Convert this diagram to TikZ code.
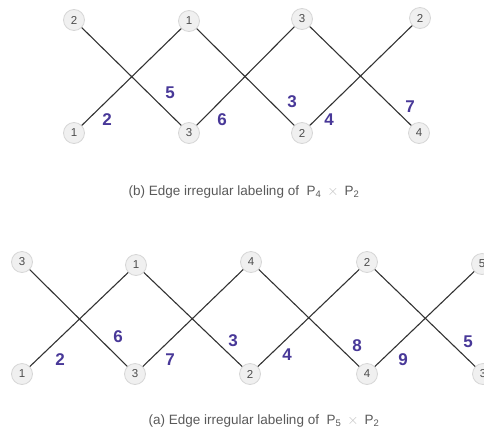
\documentclass[tikz,border=0pt]{standalone}
\usepackage{fontspec}
\setmainfont{Liberation Sans}
\definecolor{labblue}{RGB}{72,56,152}
\begin{document}
\begin{tikzpicture}[x=1pt,y=-1pt,
  vtx/.style={circle,draw=black!16,fill=black!6,line width=0.8pt,minimum size=21pt,inner sep=0pt,text=black!70,font=\fontsize{11.5}{11.5}\selectfont},
  elab/.style={text=labblue,font=\fontsize{17}{17}\selectfont\bfseries,inner sep=0pt},
  edge/.style={draw=black!80,line width=1.1pt},
  captext/.style={text=black!65,font=\fontsize{13.5}{13.5}\selectfont,inner sep=0pt}]
\useasboundingbox (0,0) rectangle (484,434);
% (b)
\node[vtx] (bt1) at (74,20) {2};
\node[vtx] (bt2) at (189,21) {1};
\node[vtx] (bt3) at (302,19) {3};
\node[vtx] (bt4) at (420,18) {2};
\node[vtx] (bb1) at (74,133) {1};
\node[vtx] (bb2) at (189,133) {3};
\node[vtx] (bb3) at (302,133) {2};
\node[vtx] (bb4) at (419,133) {4};
\draw[edge] (bt1) -- (bb2);
\draw[edge] (bb1) -- (bt2);
\draw[edge] (bt2) -- (bb3);
\draw[edge] (bb2) -- (bt3);
\draw[edge] (bt3) -- (bb4);
\draw[edge] (bb3) -- (bt4);
\node[elab] (bl1) at (107,120) {2};
\node[elab] (bl2) at (170,93) {5};
\node[elab] (bl3) at (222,120) {6};
\node[elab] (bl4) at (292,102) {3};
\node[elab] (bl5) at (329,120) {4};
\node[elab] (bl6) at (410,107) {7};
\node[captext] (bcap) at (244,192) {(b) Edge irregular labeling of \ P\textsubscript{4} \,\textcolor{black!25}{$\times$}\, P\textsubscript{2}};
% (a)
\node[vtx] (at1) at (22,262) {3};
\node[vtx] (at2) at (136,265) {1};
\node[vtx] (at3) at (251,262) {4};
\node[vtx] (at4) at (367,262) {2};
\node[vtx] (at5) at (482,264) {5};
\node[vtx] (ab1) at (22,374) {1};
\node[vtx] (ab2) at (135,374) {3};
\node[vtx] (ab3) at (250,374) {2};
\node[vtx] (ab4) at (367,374) {4};
\node[vtx] (ab5) at (483,374) {3};
\draw[edge] (at1) -- (ab2);
\draw[edge] (ab1) -- (at2);
\draw[edge] (at2) -- (ab3);
\draw[edge] (ab2) -- (at3);
\draw[edge] (at3) -- (ab4);
\draw[edge] (ab3) -- (at4);
\draw[edge] (at4) -- (ab5);
\draw[edge] (ab4) -- (at5);
\node[elab] (al1) at (60,360) {2};
\node[elab] (al2) at (118,337) {6};
\node[elab] (al3) at (170,360) {7};
\node[elab] (al4) at (233,341) {3};
\node[elab] (al5) at (287,355) {4};
\node[elab] (al6) at (357,346) {8};
\node[elab] (al7) at (403,360) {9};
\node[elab] (al8) at (468,342) {5};
\node[captext] (acap) at (264,421) {(a) Edge irregular labeling of \ P\textsubscript{5} \,\textcolor{black!25}{$\times$}\, P\textsubscript{2}};
\end{tikzpicture}
\end{document}
